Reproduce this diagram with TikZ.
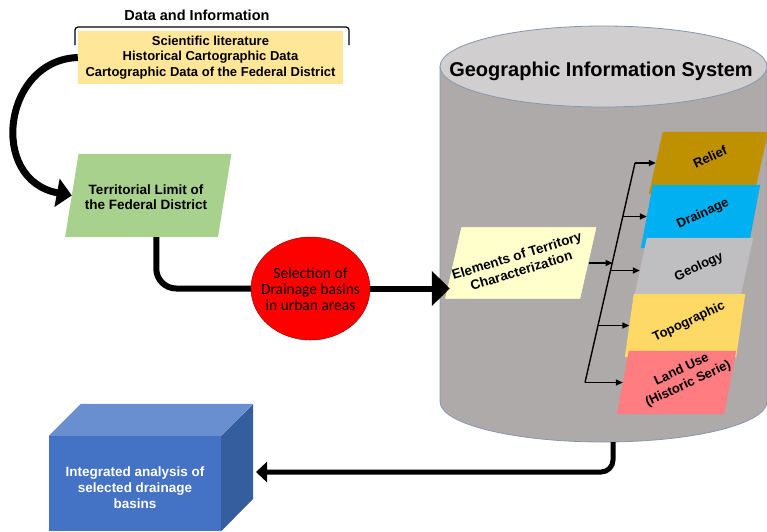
\documentclass[tikz,border=0pt]{standalone}
\usepackage{fontspec}
\setmainfont{Liberation Sans}
\newfontfamily\calibfont{Carlito}
\usepackage{graphicx}
\usetikzlibrary{shapes.geometric,arrows.meta,calc}
\definecolor{infoY}{HTML}{FFE699}
\definecolor{terrG}{HTML}{A9D18E}
\definecolor{elemY}{HTML}{FFFFCC}
\definecolor{gisBody}{HTML}{AEAAAA}
\definecolor{gisTop}{HTML}{D0CECE}
\definecolor{gisLine}{HTML}{8497B0}
\definecolor{reliefC}{HTML}{BF9000}
\definecolor{drainC}{HTML}{00B0F0}
\definecolor{geolC}{HTML}{BFBFC1}
\definecolor{topoC}{HTML}{FFD966}
\definecolor{landC}{HTML}{FF7C80}
\definecolor{cubeF}{HTML}{4472C4}
\definecolor{cubeT}{HTML}{6A8FD0}
\definecolor{cubeS}{HTML}{355E9F}
% parallelogram drawn around an invisible rectangle node: #1 node, #2 options, #3 skew
\newcommand\plgshape[3]{%
  \path[#2] ($(#1.south west)+(-#3/2,0)$) -- ($(#1.north west)+(#3/2,0)$)
    -- ($(#1.north east)+(#3/2,0)$) -- ($(#1.south east)+(-#3/2,0)$) -- cycle;}
\begin{document}
\begin{tikzpicture}[x=1pt,y=-1pt,
  bf/.style={font=\bfseries\fontsize{13}{15.5}\selectfont, align=center, inner sep=0pt},
  body/.style={rectangle, inner sep=0pt},
  thickconn/.style={line width=6pt},
  smallarr/.style={line width=1.4pt, -{Triangle[length=7pt,width=6pt]}}]
\useasboundingbox (0,0) rectangle (767,531);

% GIS cylinder
\filldraw[fill=gisBody, draw=gisLine, line width=0.8pt]
  (440,66.5) -- (440,401.5)
  .. controls (440,423.9) and (513.2,442) .. (603.5,442)
  .. controls (693.8,442) and (767,423.9) .. (767,401.5)
  -- (767,66.5) -- cycle;
\filldraw[fill=gisTop, draw=gisLine, line width=0.8pt]
  (603.5,66.5) ellipse [x radius=163.5, y radius=40.5];
\node[font=\bfseries\fontsize{20}{24}\selectfont, inner sep=0pt] (gis) at (601,71) {Geographic Information System};
\coordinate (gisbot) at (613,442);

% Data and information
\node[font=\bfseries\fontsize{14.5}{17}\selectfont, inner sep=0pt] (dtitle) at (197,15.5) {Data and Information};
\draw[line width=1.2pt, rounded corners=3pt] (75,45) -- (75,27) -- (349,27) -- (349,45);
\node[fill=infoY, minimum width=265pt, minimum height=53pt, bf] (info) at (210.5,57.5)
  {Scientific literature\\Historical Cartographic Data\\Cartographic Data of the Federal District};

% Territorial limit
\node[body, minimum width=152.5pt, minimum height=83pt] (terr) at (148.25,195.5) {};
\plgshape{terr}{fill=terrG}{13.5}
\node[bf, font=\bfseries\fontsize{13.5}{15.5}\selectfont] (terrtxt) at (146,197)
  {Territorial Limit of\\the Federal District};

% curved arrow
\draw[line width=7pt, -{Triangle[length=15pt,width=28pt]}]
  (info.west) .. controls (3,60) and (-12,180) .. (terr.west);

% Selection ellipse
\node[ellipse, fill=red, draw=red!60!black, line width=0.5pt, inner sep=0pt,
  minimum width=119pt, minimum height=103pt] (sel) at (310.5,288.5) {};
\node[font=\calibfont\fontsize{15.5}{16.3}\selectfont, align=center, inner sep=0pt]
  (seltxt) at (310.5,289) {Selection of\\Drainage basins\\in urban areas};

\draw[thickconn, rounded corners=20pt] ([xshift=8pt]terr.south) |- (sel.west);

% Elements of territory characterization
\node[body, minimum width=135.5pt, minimum height=72pt] (elem) at (520.75,263) {};
\plgshape{elem}{fill=elemY, draw=gray!70, line width=0.6pt}{16.5}
\node[bf, rotate=17, font=\bfseries\fontsize{13.5}{15.5}\selectfont] (elemtxt) at (519,263) {Elements of Territory\\Characterization};

\draw[thickconn, -{Triangle[length=18pt,width=34pt]}] (sel.east) -- ([xshift=-3pt]sel.east -| elem.south west);

% thematic layers
\node[body, minimum width=105pt, minimum height=62pt] (relief) at (708.5,163) {};
\node[body, minimum width=107pt, minimum height=63pt] (drain) at (700.5,216.5) {};
\node[body, minimum width=106pt, minimum height=65pt] (geol) at (693,270.5) {};
\node[body, minimum width=111pt, minimum height=63pt] (topo) at (685,325.5) {};
\node[body, minimum width=107pt, minimum height=63pt] (land) at (676.5,382.5) {};
\plgshape{relief}{fill=reliefC}{14}
\plgshape{drain}{fill=drainC}{12}
\plgshape{geol}{fill=geolC}{14}
\plgshape{topo}{fill=topoC}{9}
\plgshape{land}{fill=landC}{12}

\node[bf, rotate=25] (relieftxt) at (710,157) {Relief};
\node[bf, rotate=25] (draintxt) at (703,214) {Drainage};
\node[bf, rotate=25] (geoltxt) at (699,267) {Geology};
\node[bf, rotate=25] (topotxt) at (689,322) {Topographic};
\node[bf, rotate=25] (landtxt) at (685,377) {Land Use\\(Historic Serie)};

% spine
\coordinate (sp1) at (635,163);
\coordinate (sp2) at (622.8,216.5);
\coordinate (sp3) at (610.6,270.5);
\coordinate (sp4) at (598,325.5);
\coordinate (sp5) at (585,382.5);
\coordinate (spE) at (612.5,263);
\draw[line width=1.4pt] (sp5) -- (sp1);
\draw[smallarr] (elem.east) -- (spE);
\draw[smallarr] (sp1) -- (relief.west);
\draw[smallarr] (sp2) -- (drain.west);
\draw[smallarr] (sp3) -- (geol.west);
\draw[smallarr] (sp4) -- (topo.west);
\draw[smallarr] (sp5) -- (land.west);

% cube
\node[fill=cubeF, minimum width=172pt, minimum height=95pt, inner sep=0pt] (integ) at (135,483.5) {};
\fill[cubeT] (integ.north west) -- ++(32,-32) -- ++(172,0) -- (integ.north east) -- cycle;
\fill[cubeS] (integ.north east) -- ++(32,-32) -- ++(0,95) -- (integ.south east) -- cycle;
\node[bf, text=white, font=\bfseries\fontsize{13.5}{16.3}\selectfont] (integtxt) at (135,487.5)
  {Integrated analysis of\\selected drainage\\basins};
\coordinate (cubeR) at (256,472);

\draw[line width=5pt, rounded corners=12pt, -{Triangle[length=11pt,width=20pt]}]
  (gisbot) |- (cubeR);
\end{tikzpicture}
\end{document}
